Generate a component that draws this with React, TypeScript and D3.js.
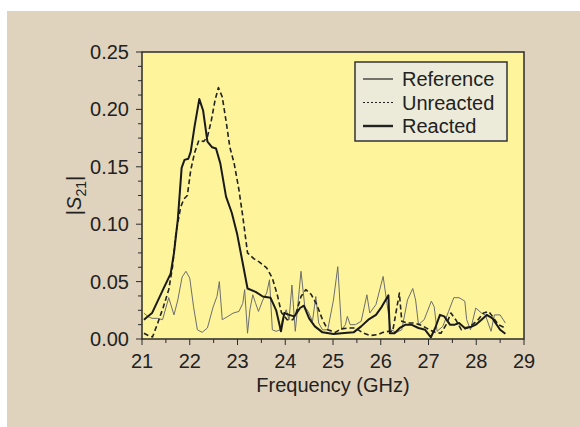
import React from "react"
import * as d3 from "d3"

// frequency (GHz) / |S21| pairs
const reactedFreq = [21.04, 21.21, 21.44, 21.6, 21.67, 21.75, 21.83, 21.89, 21.97, 22.02, 22.1, 22.2, 22.28, 22.37, 22.47, 22.55, 22.64, 22.76, 22.88, 22.99, 23.11, 23.21, 23.38, 23.53, 23.69, 23.81, 23.91, 23.98, 24.08, 24.19, 24.31, 24.39, 24.5, 24.62, 24.78, 25.01, 25.24, 25.43, 25.59, 25.74, 25.9, 26.02, 26.13, 26.16, 26.19, 26.29, 26.4, 26.52, 26.64, 26.79, 26.93, 27.05, 27.14, 27.24, 27.33, 27.45, 27.55, 27.64, 27.76, 27.88, 27.99, 28.11, 28.22, 28.34, 28.5, 28.61]
const reactedS21 = [0.0168, 0.0226, 0.043, 0.057, 0.075, 0.104, 0.149, 0.156, 0.157, 0.163, 0.185, 0.209, 0.199, 0.172, 0.167, 0.166, 0.153, 0.124, 0.11, 0.092, 0.066, 0.044, 0.041, 0.037, 0.036, 0.025, 0.0067, 0.0226, 0.021, 0.0197, 0.027, 0.029, 0.018, 0.011, 0.0058, 0.0043, 0.0052, 0.0058, 0.011, 0.0168, 0.021, 0.028, 0.036, 0.038, 0.005, 0.005, 0.0096, 0.0125, 0.0125, 0.0096, 0.008, 0.0015, 0.0096, 0.021, 0.0197, 0.0125, 0.0125, 0.0139, 0.0096, 0.0104, 0.0125, 0.0168, 0.021, 0.018, 0.008, 0.0046]

const unreactedFreq = [21.04, 21.13, 21.22, 21.33, 21.44, 21.56, 21.64, 21.71, 21.81, 21.88, 21.95, 22.02, 22.1, 22.19, 22.29, 22.37, 22.45, 22.53, 22.6, 22.68, 22.76, 22.84, 22.93, 23.03, 23.11, 23.21, 23.34, 23.46, 23.61, 23.73, 23.83, 23.92, 24.04, 24.16, 24.23, 24.33, 24.43, 24.54, 24.66, 24.78, 24.89, 25.05, 25.16, 25.32, 25.47, 25.63, 25.78, 25.94, 26.05, 26.17, 26.25, 26.34, 26.39, 26.44, 26.56, 26.71, 26.87, 27.02, 27.14, 27.26, 27.37, 27.47, 27.57, 27.69, 27.81, 27.92, 28.04, 28.15, 28.26, 28.34, 28.46, 28.61]
const unreactedS21 = [0.005, 0.003, 0.0017, 0.014, 0.027, 0.043, 0.063, 0.092, 0.115, 0.122, 0.125, 0.147, 0.162, 0.173, 0.172, 0.176, 0.19, 0.208, 0.219, 0.211, 0.19, 0.167, 0.153, 0.13, 0.107, 0.075, 0.07, 0.067, 0.062, 0.053, 0.039, 0.023, 0.0168, 0.0168, 0.023, 0.037, 0.043, 0.039, 0.03, 0.0168, 0.008, 0.0058, 0.0087, 0.0096, 0.0096, 0.0052, 0.003, 0.0038, 0.0058, 0.0067, 0.0067, 0.028, 0.04, 0.0154, 0.0139, 0.0139, 0.0116, 0.008, 0.0058, 0.005, 0.0125, 0.0226, 0.0168, 0.008, 0.0096, 0.0125, 0.0168, 0.0226, 0.024, 0.0197, 0.0125, 0.0096]

const referenceFreq = [21.04, 21.12, 21.21, 21.33, 21.43, 21.56, 21.67, 21.75, 21.84, 21.92, 22.0, 22.08, 22.16, 22.26, 22.37, 22.49, 22.57, 22.62, 22.68, 22.8, 22.91, 23.03, 23.11, 23.15, 23.21, 23.26, 23.32, 23.38, 23.44, 23.53, 23.61, 23.67, 23.73, 23.81, 23.89, 23.94, 24.02, 24.08, 24.14, 24.21, 24.26, 24.33, 24.41, 24.48, 24.57, 24.64, 24.7, 24.78, 24.89, 25.01, 25.1, 25.18, 25.26, 25.3, 25.36, 25.47, 25.59, 25.71, 25.77, 25.9, 26.05, 26.13, 26.21, 26.33, 26.44, 26.56, 26.67, 26.73, 26.79, 26.91, 27.06, 27.12, 27.18, 27.3, 27.42, 27.53, 27.64, 27.76, 27.8, 27.88, 27.99, 28.11, 28.19, 28.31, 28.38, 28.5, 28.61]
const referenceS21 = [0.0226, 0.0197, 0.018, 0.018, 0.0168, 0.036, 0.021, 0.034, 0.054, 0.059, 0.053, 0.028, 0.008, 0.0058, 0.0096, 0.028, 0.037, 0.05, 0.0168, 0.0197, 0.0226, 0.024, 0.031, 0.043, 0.005, 0.0255, 0.0385, 0.031, 0.024, 0.034, 0.04, 0.0516, 0.008, 0.0067, 0.008, 0.0168, 0.0255, 0.0168, 0.047, 0.0067, 0.028, 0.059, 0.028, 0.024, 0.0154, 0.037, 0.0139, 0.008, 0.008, 0.034, 0.063, 0.008, 0.0125, 0.0197, 0.0125, 0.0125, 0.0154, 0.0385, 0.0226, 0.03, 0.0545, 0.031, 0.008, 0.0058, 0.008, 0.034, 0.044, 0.034, 0.0125, 0.0168, 0.033, 0.028, 0.0067, 0.011, 0.024, 0.036, 0.036, 0.033, 0.0168, 0.008, 0.027, 0.0226, 0.021, 0.0067, 0.021, 0.021, 0.0139]

const xTicks = [21, 22, 23, 24, 25, 26, 27, 28, 29]
const yTicks = [0, 0.05, 0.1, 0.15, 0.2, 0.25]
const legendNames = ["Reference", "Unreacted", "Reacted"]

const W = 580
const H = 427
const margin = { top: 52, left: 142, right: 56, bottom: 88 }
const font = "'Liberation Sans', Arial, sans-serif"

export default function App() {
    const innerW = W - margin.left - margin.right
    const innerH = H - margin.top - margin.bottom

    const x = d3.scaleLinear().domain([21, 29]).range([0, innerW])
    const y = d3.scaleLinear().domain([0, 0.25]).range([innerH, 0])

    const line = d3.line<[number, number]>()
        .x(d => x(d[0]))
        .y(d => y(d[1]))

    const zip = (a: number[], b: number[]) => a.map((v, i) => [v, b[i]] as [number, number])

    const series = [
        { name: legendNames[0], d: line(zip(referenceFreq, referenceS21)), stroke: "#6e6e6e", w: 1, dash: "", legDash: "", legW: 1.2 },
        { name: legendNames[1], d: line(zip(unreactedFreq, unreactedS21)), stroke: "#222", w: 1.6, dash: "5,3", legDash: "2,2", legW: 1.2 },
        { name: legendNames[2], d: line(zip(reactedFreq, reactedS21)), stroke: "#1a1a1a", w: 2, dash: "", legDash: "", legW: 2.4 },
    ]

    const xMinor = d3.range(21, 29.01, 0.5)
    const yMinor = d3.range(0, 0.2501, 0.0125)

    return (
        <svg width={W} height={H} style={{ position: "absolute", left: 0, top: 0 }} fontFamily={font}>
            <rect x={0} y={0} width={W} height={H} fill="#fff" />
            <rect x={7} y={11} width={W - 7} height={H - 11} fill="#e0d3be" />
            <g transform={`translate(${margin.left},${margin.top})`}>
                <rect x={0} y={0} width={innerW} height={innerH} fill="#fdf49b" />
                <defs>
                    <clipPath id="plotclip">
                        <rect x={0} y={0} width={innerW} height={innerH} />
                    </clipPath>
                </defs>
                <g clipPath="url(#plotclip)">
                    {series.map(s => (
                        <path key={s.name} d={s.d ?? ""} fill="none" stroke={s.stroke}
                            strokeWidth={s.w} strokeDasharray={s.dash || undefined} strokeLinejoin="round" />
                    ))}
                </g>
                <rect x={0} y={0} width={innerW} height={innerH} fill="none" stroke="#2b2b2b" strokeWidth={1.5} />

                {/* x axis ticks */}
                {xMinor.map(t => (
                    <line key={"xm" + t} x1={x(t)} x2={x(t)} y1={innerH} y2={innerH + (Number.isInteger(t) ? 6 : 4)} stroke="#2b2b2b" strokeWidth={1} />
                ))}
                {xTicks.map(t => (
                    <text key={"xl" + t} x={x(t)} y={innerH + 29} textAnchor="middle" fontSize={20} fill="#222">{t}</text>
                ))}
                <text x={innerW / 2} y={innerH + 53} textAnchor="middle" fontSize={20} fill="#222">Frequency (GHz)</text>

                {/* y axis ticks */}
                {yMinor.map((t, i) => (
                    <line key={"ym" + i} x1={-(i % 4 === 0 ? 6 : 4)} x2={0} y1={y(t)} y2={y(t)} stroke="#2b2b2b" strokeWidth={1} />
                ))}
                {yTicks.map(t => (
                    <text key={"yl" + t} x={-13} y={y(t)} dy="0.35em" textAnchor="end" fontSize={20} fill="#222">{d3.format(".2f")(t)}</text>
                ))}
                <text transform={`translate(${-68},${innerH / 2}) rotate(-90)`} textAnchor="middle" fontSize={20} fill="#222" dy="0.35em">
                    |<tspan fontStyle="italic">S</tspan><tspan fontSize={14} dy="5">21</tspan><tspan dy="-5">|</tspan>
                </text>

                {/* legend */}
                <g transform={`translate(${213},${10})`}>
                    <rect x={0} y={0} width={152} height={79} fill="#ecebd9" stroke="#333" strokeWidth={1.5} />
                    {series.map((s, i) => (
                        <g key={"lg" + s.name} transform={`translate(0,${17 + i * 23.5})`}>
                            <line x1={8} x2={38} y1={0} y2={0} stroke="#222" strokeWidth={s.legW} strokeDasharray={s.legDash || undefined} />
                            <text x={47} y={0} dy="0.35em" fontSize={20} fill="#222">{s.name}</text>
                        </g>
                    ))}
                </g>
            </g>
        </svg>
    )
}
